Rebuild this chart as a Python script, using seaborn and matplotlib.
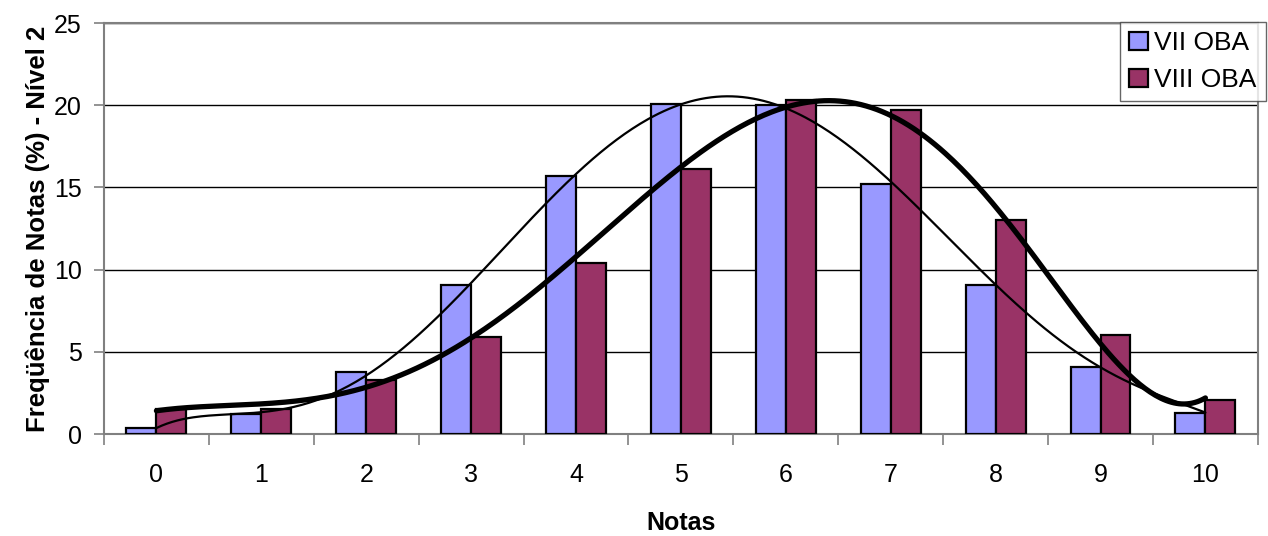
import numpy as np
import pandas as pd
import matplotlib
matplotlib.use("Agg")
import matplotlib.pyplot as plt
import seaborn as sns

# Grade distribution (%) for level 2, two editions of the olympiad
notas = [0, 1, 2, 3, 4, 5, 6, 7, 8, 9, 10]
vii_oba = [0.4, 1.2, 3.8, 9.1, 15.7, 20.1, 20.0, 15.2, 9.1, 4.1, 1.3]
viii_oba = [1.5, 1.5, 3.3, 5.9, 10.4, 16.1, 20.3, 19.7, 13.0, 6.0, 2.1]
series_names = ["VII OBA", "VIII OBA"]
colors = ["#9999FF", "#993366"]

df = pd.DataFrame({
    "Notas": [str(n) for n in notas] * 2,
    "Freq": vii_oba + viii_oba,
    "Edição": [series_names[0]] * len(notas) + [series_names[1]] * len(notas),
})

sns.set_theme(style="white", rc={"text.color": "black", "axes.labelcolor": "black",
                                 "xtick.color": "black", "ytick.color": "black"})
plt.rcParams["font.family"] = ["Liberation Sans", "DejaVu Sans"]

fig = plt.figure(figsize=(12.68, 5.36), dpi=100)
ax = fig.add_axes([0.082, 0.190, 0.910, 0.767])

sns.barplot(data=df, x="Notas", y="Freq", hue="Edição", palette=colors,
            width=0.571, gap=0, edgecolor="black", linewidth=1.6,
            saturation=1, ax=ax, legend=True, zorder=3)

# Polynomial trend lines (order 6) for each edition
xs = np.linspace(0, 10, 400)
x_arr = np.array(notas, dtype=float)
fit_vii = np.polyval(np.polyfit(x_arr, vii_oba, 6), xs)
fit_viii = np.polyval(np.polyfit(x_arr, viii_oba, 6), xs)
ax.plot(xs, fit_vii, color="black", lw=1.6, zorder=5)
ax.plot(xs, fit_viii, color="black", lw=3.8, zorder=5)

ax.set_xlim(-0.5, 10.5)
ax.set_ylim(0, 25)
ax.set_yticks([0, 5, 10, 15, 20, 25])
ax.yaxis.grid(True, color="black", lw=1.0, zorder=0)
ax.set_axisbelow(True)

# tick marks between categories, labels at category centers
ax.set_xticks(np.arange(-0.5, 11, 1.0), minor=True)
ax.tick_params(axis="x", which="major", length=0, pad=21, labelsize=18,
               labelcolor="black")
ax.tick_params(axis="x", which="minor", length=8, width=1.2, color="#808080",
               direction="out", bottom=True)
ax.tick_params(axis="y", length=7, width=1.2, color="#808080", direction="out",
               left=True, labelsize=18, pad=9, labelcolor="black")

for side in ["top", "right", "left", "bottom"]:
    ax.spines[side].set_visible(True)
    ax.spines[side].set_color("#808080")
    ax.spines[side].set_linewidth(1.5)

ax.set_xlabel("Notas", fontsize=18, fontweight="bold", labelpad=17,
              color="black")
ax.set_ylabel("Freqüência de Notas (%) - Nível 2", fontsize=18.5,
              fontweight="bold", labelpad=3, color="black")

leg = ax.legend(loc="upper right", bbox_to_anchor=(1.007, 1.003), fontsize=19,
                frameon=True, fancybox=False, edgecolor="#404040",
                handlelength=0.7, handleheight=0.7, handletextpad=0.25,
                borderpad=0.35, labelspacing=0.5, borderaxespad=0)
leg.get_frame().set_linewidth(1.0)
for t in leg.get_texts():
    t.set_color("black")
leg.set_zorder(10)

fig.savefig("out.png", dpi=100, facecolor="white")
